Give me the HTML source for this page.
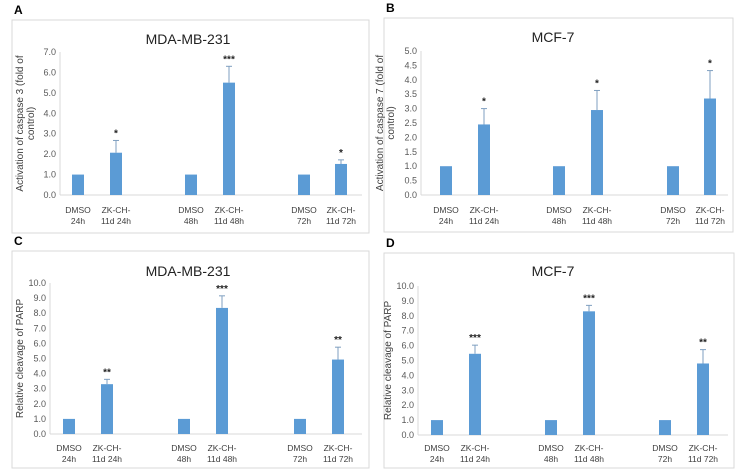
<!DOCTYPE html>
<html><head><meta charset="utf-8"><style>
body{margin:0;background:#fff;}
svg{display:block;font-family:"Liberation Sans",Arial,sans-serif;}
</style></head><body>
<svg id="fig" width="742" height="476" viewBox="0 0 742 476"></svg>
<script>
const categories = [["DMSO","24h"],["ZK-CH-","11d 24h"],["DMSO","48h"],["ZK-CH-","11d 48h"],["DMSO","72h"],["ZK-CH-","11d 72h"]];
const valuesA = [1, 2.07, 1, 5.5, 1, 1.52];
const errA = [0, 0.6, 0, 0.8, 0, 0.2];
const starsA = ["", "*", "", "***", "", "*"];
const ticksA = ["0.0","1.0","2.0","3.0","4.0","5.0","6.0","7.0"];
const valuesB = [1, 2.45, 1, 2.95, 1, 3.35];
const errB = [0, 0.55, 0, 0.68, 0, 0.97];
const starsB = ["", "*", "", "*", "", "*"];
const ticksB = ["0.0","0.5","1.0","1.5","2.0","2.5","3.0","3.5","4.0","4.5","5.0"];
const valuesC = [1, 3.3, 1, 8.35, 1, 4.93];
const errC = [0, 0.32, 0, 0.8, 0, 0.82];
const starsC = ["", "**", "", "***", "", "**"];
const ticksC = ["0.0","1.0","2.0","3.0","4.0","5.0","6.0","7.0","8.0","9.0","10.0"];
const valuesD = [1, 5.45, 1, 8.3, 1, 4.8];
const errD = [0, 0.58, 0, 0.4, 0, 0.93];
const starsD = ["", "***", "", "***", "", "**"];
const ticksD = ["0.0","1.0","2.0","3.0","4.0","5.0","6.0","7.0","8.0","9.0","10.0"];

const NS = "http://www.w3.org/2000/svg";
const svg = document.getElementById("fig");
function mk(tag, attrs, parent, text){
  const e = document.createElementNS(NS, tag);
  for (const k in attrs) e.setAttribute(k, attrs[k]);
  if (text !== undefined) e.textContent = text;
  (parent || svg).appendChild(e);
  return e;
}
function panel(p){
  const g = mk("g", {});
  
  
  const frame = mk("rect", {x:p.fx, y:p.fy, width:p.fw, height:p.fh, fill:"#fff", stroke:"#d9d9d9", "stroke-width":1}, g);
  
  
  const lt = mk("text", {x:p.fx+2, y:p.fy-6, "font-size":12, "font-weight":"bold", fill:"#000"}, g, p.letter);
  
  
  const tt = mk("text", {x:p.tx, y:p.ty, "font-size":14, "text-anchor":"middle", fill:"#222"}, g, p.title);
  
  
  const maxV = parseFloat(p.ticks[p.ticks.length-1]);
  const yS = v => p.y0 + (p.y1 - p.y0) * v / maxV;
  const ax = mk("line", {x1:p.ax, y1:p.y1, x2:p.ax, y2:p.y0, stroke:"#d9d9d9"}, g);
  
  
  const xl = mk("line", {x1:p.ax, y1:p.y0, x2:p.xr, y2:p.y0, stroke:"#d9d9d9"}, g);
  
  
  p.ticks.forEach(t => {
    const y = yS(parseFloat(t));
    const tk = mk("text", {x:p.ax-4, y:y+3, "font-size":9, "text-anchor":"end", fill:"#595959"}, g, t);
    
    
  });
  const yt = mk("text", {transform:`translate(${p.ytx},${(p.y0+p.y1)/2}) rotate(-90)`, "font-size":10, "text-anchor":"middle", fill:"#404040"}, g);
  
  
  p.ytitle.forEach((line,i) => mk("tspan", {x:0, dy: i===0 ? (p.ytitle.length>1?-5:0) : 11}, yt, line));
  p.values.forEach((v,i) => {
    const cx = p.bx0 + p.bxs[i];
    const top = yS(v);
    const bar = mk("rect", {x:cx-6, y:top, width:12, height:p.y0-top, fill:"#5b9bd5"}, g);
    
    
    if (p.err[i] > 0){
      const et = yS(v + p.err[i]);
      const e1 = mk("line", {x1:cx, y1:top, x2:cx, y2:et, stroke:"#7f9fc0", "stroke-width":1}, g);
      
      
      mk("line", {x1:cx-3, y1:et, x2:cx+3, y2:et, stroke:"#7f9fc0", "stroke-width":1}, g);
    }
    if (p.stars[i]){
      const st = mk("text", {x:cx, y:yS(v + p.err[i]) - 4, "font-size":10, "text-anchor":"middle", fill:"#222", "font-weight":"bold"}, g, p.stars[i]);
      
      
    }
    const lb = mk("text", {x:cx, y:p.ly, "font-size":8.5, "text-anchor":"middle", fill:"#404040"}, g);
    
    
    mk("tspan", {x:cx, dy:0}, lb, categories[i][0]);
    mk("tspan", {x:cx, dy:11}, lb, categories[i][1]);
  });
}
panel({letter:"A", title:"MDA-MB-231", fx:12, fy:20, fw:357, fh:213, tx:188, ty:44,
  ax:60, xr:362, y0:195, y1:52, ytx:28, ytitle:["Activation of caspase 3 (fold of","control)"],
  ticks:ticksA, values:valuesA, err:errA, stars:starsA, bx0:0, bxs:[78,116,191,229,304,341], ly:213});
panel({letter:"B", title:"MCF-7", fx:384, fy:18, fw:349, fh:214, tx:553, ty:42,
  ax:421, xr:728, y0:195, y1:51, ytx:388, ytitle:["Activation of caspase 7 (fold of","control)"],
  ticks:ticksB, values:valuesB, err:errB, stars:starsB, bx0:0, bxs:[446,484,559,597,673,710], ly:213});
panel({letter:"C", title:"MDA-MB-231", fx:12, fy:251, fw:357, fh:217, tx:188, ty:276,
  ax:50, xr:362, y0:434, y1:283, ytx:23, ytitle:["Relative cleavage of PARP"],
  ticks:ticksC, values:valuesC, err:errC, stars:starsC, bx0:0, bxs:[69,107,184,222,300,338], ly:451});
panel({letter:"D", title:"MCF-7", fx:384, fy:253, fw:350, fh:215, tx:553, ty:276,
  ax:418, xr:728, y0:435, y1:286, ytx:391, ytitle:["Relative cleavage of PARP"],
  ticks:ticksD, values:valuesD, err:errD, stars:starsD, bx0:0, bxs:[437,475,551,589,665,703], ly:451});
</script>
</body></html>
